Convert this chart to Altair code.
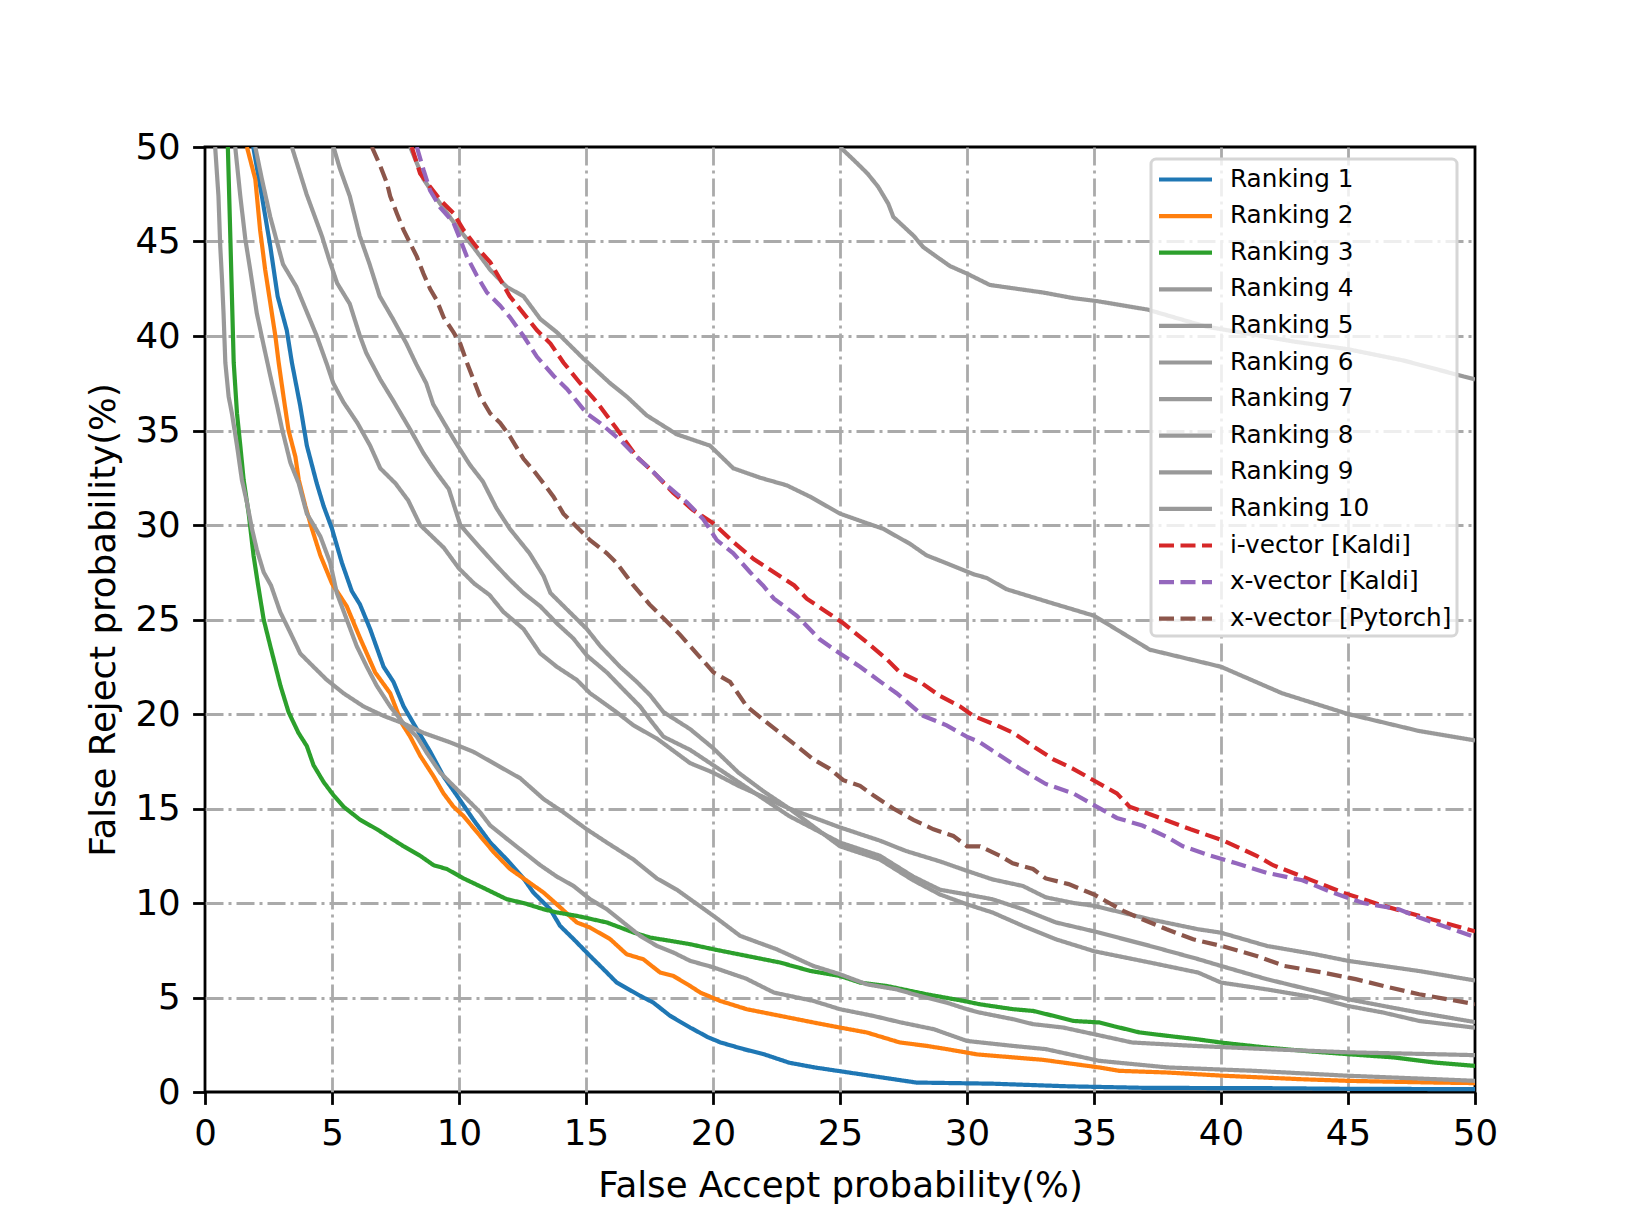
import altair as alt
import pandas as pd

# ---------------- data ----------------
names = ["Ranking 1", "Ranking 2", "Ranking 3", "Ranking 4", "Ranking 5",
         "Ranking 6", "Ranking 7", "Ranking 8", "Ranking 9", "Ranking 10",
         "i-vector [Kaldi]", "x-vector [Kaldi]", "x-vector [Pytorch]"]
colors = ["#1f77b4", "#ff7f0e", "#2ca02c"] + ["#999999"] * 7 + ["#d62728", "#9467bd", "#8c564b"]
dashes = [[1, 0]] * 10 + [[15, 6.5]] * 3
ticks = [0, 5, 10, 15, 20, 25, 30, 35, 40, 45, 50]

r1_x = [1.9, 2.24, 2.57, 2.86, 3.22, 3.42, 3.75, 4.01, 4.4, 4.67, 5.0, 5.39, 5.78, 6.1, 6.5, 7.03, 7.42, 7.82,
        8.34, 8.87, 9.39, 9.91, 10.57, 11.23, 11.88, 12.54, 12.93, 13.59, 13.98, 14.51, 15.16, 15.82, 16.21,
        17.13, 17.65, 18.31, 19.1, 19.8, 20.3, 21.2, 22.0, 23.0, 24.0, 25.5, 27.0, 28.0, 31.0, 34.0, 37.0,
        42.0, 45.0, 50.0]
r1_y = [50, 47.4, 44.75, 42.1, 40.3, 38.6, 36.3, 34.2, 32.2, 31.0, 29.8, 28.0, 26.5, 25.8, 24.5, 22.5, 21.7, 20.4,
        19.2, 18.0, 16.7, 15.7, 14.4, 13.2, 12.3, 11.3, 10.55, 9.67, 8.79, 8.09, 7.2, 6.32, 5.79,
        5.09, 4.73, 4.03, 3.41, 2.9, 2.62, 2.27, 2.0, 1.55, 1.3, 1.0, 0.7, 0.5, 0.44, 0.3, 0.22,
        0.2, 0.17, 0.15]

r2_x = [1.65, 1.98, 2.17, 2.37, 2.57, 2.77, 2.9, 3.09, 3.29, 3.56, 3.69, 3.95, 4.21, 4.54, 5.0, 5.58, 6.11, 6.7,
        7.29, 7.75, 8.08, 8.47, 9.0, 9.39, 9.78, 10.18, 10.83, 11.36, 12.01, 12.54, 13.33, 13.85, 14.64, 15.16,
        15.95, 16.6, 17.26, 17.92, 18.44, 19.1, 19.5, 20.28, 21.33, 22.64, 23.95, 25.0, 26.05, 27.36, 28.41,
        29.2, 30.4, 33.0, 35.2, 36.0, 37.9, 40.1, 43.1, 45.0, 48.4, 50.0]
r2_y = [50, 48.3, 45.6, 43.5, 41.75, 40.0, 38.6, 36.8, 35.0, 33.6, 32.4, 31.0, 29.8, 28.4, 26.9, 25.7, 24.0, 22.2,
        21.1, 19.5, 18.8, 17.8, 16.7, 15.8, 15.1, 14.6, 13.55, 12.7, 11.8, 11.3, 10.55, 9.93, 8.97, 8.7,
        8.09, 7.29, 7.02, 6.32, 6.14, 5.61, 5.26, 4.82, 4.38, 4.03, 3.68, 3.41, 3.15, 2.62, 2.44,
        2.27, 1.99, 1.7, 1.3, 1.12, 1.03, 0.86, 0.68, 0.59, 0.5, 0.47]

r3_x = [0.9, 0.99, 1.06, 1.13, 1.26, 1.39, 1.52, 1.72, 1.91, 2.08, 2.31, 2.57, 2.97, 3.29, 3.68, 4.01, 4.27, 4.67,
        5.06, 5.45, 6.11, 6.77, 7.82, 8.47, 9.0, 9.52, 10.18, 10.96, 11.88, 12.54, 13.33, 13.85, 14.64, 15.82,
        16.87, 17.52, 18.31, 19.1, 20.02, 21.33, 22.64, 23.82, 25.0, 25.79, 26.84, 28.41, 29.86, 30.51, 31.82,
        32.6, 33.4, 34.18, 35.2, 36.0, 36.8, 37.9, 39.0, 40.1, 41.8, 43.5, 45.0, 46.8, 48.4, 50.0]
r3_y = [50, 45.6, 42.1, 38.6, 35.9, 34.2, 32.4, 30.6, 28.4, 26.9, 25.0, 23.6, 21.5, 20.1, 19.0, 18.3, 17.3, 16.4,
        15.7, 15.1, 14.4, 13.9, 13.0, 12.5, 12.0, 11.8, 11.3, 10.8, 10.2, 10.0, 9.67, 9.5, 9.32, 8.97,
        8.44, 8.17, 8.0, 7.82, 7.55, 7.2, 6.85, 6.41, 6.14, 5.79, 5.61, 5.17, 4.82, 4.64, 4.38,
        4.29, 4.03, 3.76, 3.68, 3.41, 3.15, 2.97, 2.8, 2.6, 2.35, 2.15, 2.0, 1.83, 1.56, 1.38]

r4_x = [0.4, 0.53, 0.6, 0.67, 0.73, 0.8, 0.93, 1.06, 1.26, 1.45, 1.65, 1.85, 2.04, 2.31, 2.6, 2.96, 3.36, 3.75,
        4.27, 4.8, 5.45, 6.24, 7.03, 7.82, 8.6, 9.65, 10.57, 11.49, 12.41, 13.33, 14.11, 15.03, 15.82, 16.87,
        17.79, 18.58, 19.1, 20.02, 21.07, 22.51, 23.95, 25.0, 26.05, 27.23, 28.15, 29.2, 30.0, 30.51, 31.82,
        32.6, 33.79, 35.2, 36.5, 38.8, 41.8, 45.0, 48.4, 50.0]
r4_y = [50, 47.4, 44.75, 43.0, 41.2, 38.6, 36.8, 35.9, 34.2, 32.4, 31.2, 29.8, 28.7, 27.5, 26.8, 25.4, 24.3, 23.2,
        22.5, 21.8, 21.1, 20.4, 19.9, 19.5, 19.0, 18.5, 18.0, 17.3, 16.6, 15.5, 14.8, 13.9, 13.2, 12.3,
        11.3, 10.7, 10.2, 9.32, 8.26, 7.55, 6.67, 6.23, 5.7, 5.43, 5.08, 4.73, 4.38, 4.2, 3.85,
        3.59, 3.41, 3.0, 2.62, 2.45, 2.27, 2.1, 2.0, 1.95]

r5_x = [1.19, 1.39, 1.59, 1.78, 2.04, 2.31, 2.57, 2.84, 3.03, 3.36, 3.69, 4.01, 4.54, 4.93, 5.19, 5.58, 5.97, 6.37,
        6.76, 7.29, 7.82, 8.34, 8.73, 9.26, 9.78, 10.31, 10.83, 11.23, 11.88, 12.54, 13.2, 13.85, 14.51, 15.16,
        15.82, 16.47, 17.13, 17.79, 18.44, 19.1, 20.0, 21.3, 22.4, 23.95, 25.0, 26.3, 27.4, 28.7, 30.0, 31.8,
        33.1, 35.2, 37.9, 41.3, 45.0, 48.4, 50.0]
r5_y = [50, 47.4, 45.1, 43.5, 41.2, 39.5, 37.9, 36.3, 35.1, 33.3, 32.2, 30.6, 29.4, 28.0, 26.4, 25.0, 23.6, 22.5,
        21.5, 20.4, 19.5, 18.8, 17.95, 16.9, 16.2, 15.5, 14.8, 14.1, 13.4, 12.7, 12.0, 11.4, 10.9, 10.2,
        9.67, 8.97, 8.26, 7.73, 7.38, 6.94, 6.6, 6.0, 5.26, 4.82, 4.38, 4.03, 3.68, 3.32, 2.7, 2.44,
        2.27, 1.65, 1.3, 1.12, 0.86, 0.68, 0.59]

r6_x = [1.98, 2.24, 2.57, 3.07, 3.6, 4.0, 4.4, 4.8, 5.05, 5.45, 6.0, 6.5, 6.9, 7.5, 8.0, 8.47, 9.4, 10.0, 10.6,
        11.2, 11.75, 12.54, 13.2, 13.85, 14.64, 15.16, 16.2, 16.87, 17.79, 19.1, 20.0, 21.0, 22.0, 23.0, 24.0,
        25.0, 26.57, 27.6, 28.94, 30.0, 31.0, 32.2, 33.1, 34.2, 35.0, 37.2, 39.1, 40.0, 41.8, 43.7, 45.0,
        46.4, 47.8, 50.0]
r6_y = [50, 48.3, 46.3, 43.8, 42.6, 41.3, 40.0, 38.5, 37.5, 36.5, 35.4, 34.2, 33.0, 32.2, 31.3, 30.0, 28.8, 27.7, 26.9,
        26.3, 25.4, 24.5, 23.2, 22.5, 21.8, 21.1, 20.1, 19.4, 18.7, 17.4, 16.9, 16.2, 15.6, 15.0, 14.5,
        14.0, 13.3, 12.75, 12.2, 11.7, 11.25, 10.9, 10.3, 10.0, 9.85, 9.14, 8.61, 8.43, 7.73, 7.29, 6.94,
        6.67, 6.4, 5.9]

r7_x = [3.42, 4.0, 4.6, 4.9, 5.2, 5.7, 6.1, 6.35, 6.9, 7.4, 8.1, 8.6, 9.1, 9.6, 10.05, 10.7, 11.3, 12.0, 12.54,
        13.2, 13.85, 14.5, 15.03, 15.82, 16.47, 17.13, 17.52, 18.05, 19.1, 20.0, 21.0, 22.0, 23.0, 24.0, 25.0,
        26.57, 27.88, 28.94, 30.0, 31.0, 32.2, 33.5, 35.0, 37.2, 39.1, 40.0, 41.8, 43.7, 45.0, 46.4, 47.8, 50.0]
r7_y = [50, 47.5, 45.3, 44.0, 42.8, 41.7, 40.0, 39.1, 37.7, 36.6, 35.0, 33.8, 32.8, 31.9, 30.0, 29.0, 28.1, 27.1, 26.4,
        25.7, 24.8, 24.0, 23.1, 22.2, 21.3, 20.4, 19.7, 18.8, 18.1, 17.3, 16.4, 15.5, 14.6, 13.9, 13.2,
        12.5, 11.4, 10.7, 10.45, 10.2, 9.67, 8.97, 8.5, 7.73, 7.03, 6.67, 5.97, 5.35, 4.91, 4.55, 4.2, 3.7]

r8_x = [5.06, 5.3, 5.7, 6.09, 6.48, 6.88, 7.4, 7.93, 8.32, 8.71, 8.98, 9.37, 9.9, 10.42, 10.94, 11.47, 12.0, 12.78,
        13.33, 13.6, 14.5, 15.03, 15.56, 16.34, 17.0, 17.52, 18.05, 19.1, 20.0, 21.0, 22.0, 23.0, 24.0, 25.0,
        26.57, 27.88, 28.94, 30.0, 31.0, 32.2, 33.5, 35.0, 37.2, 39.1, 40.0, 41.8, 43.7, 45.0, 46.4, 47.8, 50.0]
r8_y = [50, 48.9, 47.4, 45.3, 43.8, 42.1, 40.9, 39.6, 38.5, 37.5, 36.4, 35.5, 34.3, 33.2, 32.3, 30.9, 29.8, 28.5,
        27.3, 26.4, 25.2, 24.5, 23.6, 22.5, 21.7, 21.0, 20.1, 19.2, 18.2, 16.9, 15.9, 15.0, 14.0, 13.0,
        12.3, 11.2, 10.45, 9.93, 9.5, 8.79, 8.08, 7.45, 6.85, 6.32, 5.79, 5.43, 5.0, 4.55, 4.2, 3.76, 3.4]

r9_x = [8.08, 8.6, 9.26, 9.91, 10.57, 11.23, 11.88, 12.54, 13.2, 13.85, 14.9, 15.95, 16.6, 17.39, 18.57, 19.88,
        20.8, 21.86, 22.9, 23.82, 25.0, 26.05, 26.7, 27.76, 28.4, 29.33, 30.25, 30.77, 31.56, 33.26, 35.0,
        37.2, 40.0, 42.4, 45.0, 47.8, 50.0]
r9_y = [50, 48.3, 47.0, 45.8, 44.7, 43.5, 42.6, 42.1, 40.9, 40.2, 38.8, 37.5, 36.8, 35.8, 34.8, 34.2,
        33.0, 32.5, 32.1, 31.5, 30.6, 30.1, 29.8, 29.0, 28.4, 27.9, 27.4, 27.2, 26.6, 25.9, 25.2,
        23.4, 22.5, 21.1, 20.0, 19.1, 18.6]

r10_x = [25.0, 25.55, 26.08, 26.5, 26.9, 27.1, 27.5, 27.9, 28.28, 28.8, 29.33, 30.0, 30.9, 31.95, 33.0, 34.2,
         35.1, 37.1, 39.4, 42.9, 45.0, 47.2, 50.0]
r10_y = [50, 49.3, 48.6, 47.9, 47.0, 46.3, 45.8, 45.3, 44.7, 44.2, 43.7, 43.3, 42.7, 42.5, 42.3, 42.0,
         41.85, 41.4, 40.5, 39.7, 39.3, 38.7, 37.7]

iv_x = [8.14, 8.47, 8.86, 9.26, 9.78, 10.18, 10.7, 11.23, 11.62, 12.0, 12.54, 13.07, 13.6, 14.11, 14.77, 15.43,
        16.2, 17.0, 17.65, 18.44, 19.2, 20.0, 20.8, 21.6, 22.4, 23.2, 23.69, 24.47, 25.13, 26.05, 26.84, 27.36,
        28.15, 28.94, 29.73, 30.25, 31.17, 31.82, 32.6, 33.4, 34.18, 35.1, 35.9, 36.4, 37.2, 38.8, 40.1, 41.4,
        42.05, 43.2, 44.8, 46.4, 47.8, 50.0]
iv_y = [50, 48.6, 47.9, 47.2, 46.5, 45.6, 44.7, 43.9, 43.0, 42.1, 41.2, 40.3, 39.6, 38.6, 37.5, 36.5,
        35.1, 33.6, 32.8, 31.7, 30.8, 30.1, 29.1, 28.2, 27.5, 26.8, 26.1, 25.4, 24.8, 23.8, 22.9, 22.2,
        21.7, 20.95, 20.4, 19.9, 19.4, 19.0, 18.3, 17.6, 17.1, 16.4, 15.8, 15.1, 14.7, 13.9, 13.3, 12.5,
        12.0, 11.4, 10.55, 9.85, 9.32, 8.5]

xk_x = [8.34, 8.6, 8.86, 9.26, 9.78, 10.05, 10.31, 10.7, 11.1, 11.62, 12.0, 12.54, 13.07, 13.72, 14.25, 15.03,
        15.55, 16.34, 17.0, 17.65, 18.18, 18.97, 19.62, 20.15, 20.8, 21.46, 21.97, 22.4, 23.3, 24.2, 25.0,
        25.79, 26.6, 27.23, 28.28, 29.2, 29.99, 30.51, 31.3, 32.1, 33.1, 34.18, 35.1, 35.9, 36.9, 37.86, 38.5,
        39.6, 40.6, 41.8, 43.2, 44.4, 45.6, 47.0, 47.8, 50.0]
xk_y = [50, 48.8, 47.7, 46.8, 46.0, 45.1, 44.2, 43.2, 42.3, 41.6, 41.0, 40.0, 38.9, 37.9, 37.2, 35.9,
        35.4, 34.5, 33.6, 32.8, 32.1, 31.2, 30.3, 29.2, 28.5, 27.5, 26.8, 26.1, 25.2, 23.95, 23.2,
        22.5, 21.7, 21.1, 19.9, 19.4, 18.8, 18.5, 17.8, 17.1, 16.3, 15.8, 15.1, 14.5, 14.1, 13.5, 13.0,
        12.5, 12.1, 11.6, 11.2, 10.55, 10.0, 9.67, 9.23, 8.2]

xp_x = [6.57, 6.9, 7.16, 7.29, 7.55, 7.82, 8.08, 8.34, 8.6, 8.86, 9.12, 9.39, 9.78, 10.05, 10.31, 10.57, 10.83,
        11.23, 11.62, 12.0, 12.54, 12.93, 13.33, 13.72, 14.11, 14.64, 15.16, 15.82, 16.2, 16.87, 17.5, 18.1,
        18.7, 19.36, 20.02, 20.67, 21.33, 21.98, 22.64, 23.3, 23.95, 24.6, 25.13, 25.79, 26.31, 27.1, 27.89,
        28.68, 29.46, 30.0, 30.51, 31.3, 31.8, 32.6, 33.1, 34.0, 35.0, 35.6, 36.15, 36.9, 37.86, 38.9, 40.1,
        41.4, 42.5, 44.0, 45.3, 46.4, 47.8, 50.0]
xp_y = [50, 49.0, 48.1, 47.4, 46.5, 45.6, 44.9, 44.2, 43.3, 42.5, 41.9, 41.0, 40.2, 39.6, 38.6, 37.7, 36.8,
        35.9, 35.4, 34.7, 33.5, 32.9, 32.2, 31.5, 30.6, 29.9, 29.2, 28.5, 28.0, 26.8, 25.8, 25.0,
        24.2, 23.2, 22.2, 21.7, 20.4, 19.7, 19.0, 18.3, 17.6, 17.1, 16.5, 16.2, 15.7, 15.0, 14.4,
        13.9, 13.55, 13.0, 13.0, 12.5, 12.1, 11.8, 11.3, 11.0, 10.45, 10.0, 9.58, 9.14, 8.61, 8.08, 7.7,
        7.2, 6.67, 6.32, 5.97, 5.61, 5.17, 4.65]

series_xy = [(r1_x, r1_y), (r2_x, r2_y), (r3_x, r3_y), (r4_x, r4_y), (r5_x, r5_y), (r6_x, r6_y),
             (r7_x, r7_y), (r8_x, r8_y), (r9_x, r9_y), (r10_x, r10_y), (iv_x, iv_y), (xk_x, xk_y),
             (xp_x, xp_y)]

rows = []
for name, (xs, ys) in zip(names, series_xy):
    for i, (xv, yv) in enumerate(zip(xs, ys)):
        rows.append({"series": name, "x": xv, "y": yv, "i": i})
df = pd.DataFrame(rows)

FONT = "DejaVu Sans"

legend = alt.Legend(
    title=None, orient="none", legendX=946, legendY=12,
    symbolType="M-2,0L2,0", symbolSize=702, symbolStrokeWidth=4.2,
    symbolOffset=14, labelOffset=29, labelFontSize=24.7, labelFont=FONT,
    labelColor="black", labelLimit=0, rowPadding=8.6, padding=5,
    fillColor="rgba(255,255,255,0.8)", strokeColor="#d6d6d6", cornerRadius=5,
)

edge_test = "datum.value == 0 || datum.value == 50"

axis_common = dict(
    values=ticks, grid=True, gridColor="#aaaaaa", gridDash=[18, 5, 3, 5], gridWidth=2.8,
    gridOpacity=alt.condition(edge_test, alt.value(0), alt.value(1)),
    domain=False, ticks=True, tickColor="black", tickWidth=2.8, tickSize=12.4,
    labelFont=FONT, labelFontSize=35.6, labelColor="black", labelPadding=12.4, labelFlush=False,
    titleFont=FONT, titleFontSize=35.6, titleFontWeight="normal", titleColor="black",
)

chart = alt.Chart(df).mark_line(strokeWidth=4.2, clip=True).encode(
    x=alt.X("x:Q", scale=alt.Scale(domain=[0, 50], nice=False, zero=False),
            axis=alt.Axis(title="False Accept probability(%)", titlePadding=16, **axis_common)),
    y=alt.Y("y:Q", scale=alt.Scale(domain=[0, 50], nice=False, zero=False),
            axis=alt.Axis(title="False Reject probability(%)", titlePadding=13, **axis_common)),
    color=alt.Color("series:N", scale=alt.Scale(domain=names, range=colors), legend=legend),
    strokeDash=alt.StrokeDash("series:N", scale=alt.Scale(domain=names, range=dashes), legend=legend),
    order=alt.Order("i:Q"),
).properties(
    width=1270, height=945,
    padding={"left": 197, "top": 139, "right": 150, "bottom": 120},
    autosize=alt.AutoSizeParams(type="none"),
    background="white",
).configure_view(
    stroke="black", strokeWidth=2.8,
).configure_legend(
    strokeWidth=3,
)

chart.save("out.html", embed_options={"renderer": "svg", "actions": False})
